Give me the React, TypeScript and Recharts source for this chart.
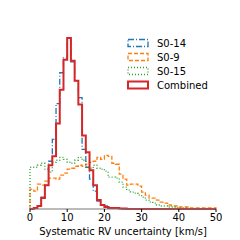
import { LineChart, Line, XAxis, YAxis } from "recharts";

// histogram bin values, 1 km/s bins from 0 to 50
const s014 = [
  0, 1, 3, 12, 24, 48, 70, 106, 137, 152, 170, 148, 129, 112, 60, 42, 30, 18, 8, 4,
  3, 2, 1, 1, 0, 0, 0, 0, 0, 0, 0, 0, 0, 0, 0, 0, 0, 0, 0, 0,
  0, 0, 0, 0, 0, 0, 0, 0, 0, 0,
];
const s09 = [
  20, 18, 25, 24, 28, 31, 31, 30, 34, 36, 40, 41, 43, 44, 43, 45, 47, 48, 52, 50,
  54, 53, 46, 45, 35, 30, 24, 25, 25, 23, 17, 14, 11, 11, 9, 7, 6, 4, 3, 3,
  2, 2, 2, 1, 1, 1, 1, 1, 1, 1,
];
const s015 = [
  42, 42, 44, 46, 40, 37, 47, 49, 52, 50, 47, 46, 49, 52, 49, 42, 41, 44, 41, 40,
  38, 32, 32, 31, 27, 22, 19, 17, 16, 14, 12, 9, 7, 6, 4, 3, 3, 2, 2, 1,
  1, 1, 0, 0, 0, 0, 0, 0, 0, 0,
];
const combined = [
  0, 1, 3, 11, 24, 44, 53, 86, 120, 150, 172, 149, 129, 105, 74, 57, 39, 24, 9, 4,
  2, 1, 1, 1, 0.5, 0.5, 0, 0, 0, 0, 0, 0, 0, 0, 0, 0, 0, 0, 0, 0,
  0, 0, 0, 0, 0, 0, 0, 0, 0, 0,
];
const xTicks = [0, 10, 20, 30, 40, 50];

const series = [
  { key: "s014", name: "S0-14", color: "#1f77b4", dash: "6 2 1 2", width: 1.3 },
  { key: "s09", name: "S0-9", color: "#ff7f0e", dash: "4 2", width: 1.3 },
  { key: "s015", name: "S0-15", color: "#2ca02c", dash: "1 2", width: 1.3 },
  { key: "comb", name: "Combined", color: "#d62728", dash: undefined, width: 2 },
];

// step outline: up from baseline at 0, flat per bin, down at 50
const rows = [
  { x: 0, s014: 0, s09: 0, s015: 0, comb: 0 },
  ...s014.map((_, i) => ({ x: i, s014: s014[i], s09: s09[i], s015: s015[i], comb: combined[i] })),
  { x: 50, s014: s014[49], s09: s09[49], s015: s015[49], comb: combined[49] },
  { x: 50, s014: 0, s09: 0, s015: 0, comb: 0 },
];

const font = "'DejaVu Sans', sans-serif";

function LegendBox() {
  return (
    <div style={{ position: "absolute", left: 127, top: 36, fontFamily: font, fontSize: 10, color: "#000" }}>
      {series.map((s) => (
        <div key={s.key} style={{ display: "flex", alignItems: "center", height: 14 }}>
          <svg width={22} height={14}>
            <rect
              x={1}
              y={3.5}
              width={20}
              height={7}
              fill="none"
              stroke={s.color}
              strokeWidth={s.width}
              strokeDasharray={s.dash}
            />
          </svg>
          <span style={{ marginLeft: 8 }}>{s.name}</span>
        </div>
      ))}
    </div>
  );
}

export default function App() {
  return (
    <div style={{ position: "absolute", left: 0, top: 0, width: 240, height: 240, background: "#fff" }}>
      <LineChart width={240} height={240} data={rows} margin={{ top: 29, right: 24, left: 30, bottom: 0 }}>
        <XAxis
          dataKey="x"
          type="number"
          domain={[0, 50]}
          ticks={xTicks}
          height={31}
          tickSize={3}
          tickMargin={2}
          stroke="#000"
          axisLine={{ stroke: "#777" }}
          tick={{ fontSize: 10, fill: "#000", fontFamily: font }}
          label={{
            value: "Systematic RV uncertainty [km/s]",
            position: "insideBottom",
            offset: 5,
            style: { fontSize: 10, fill: "#000", fontFamily: font },
          }}
        />
        <YAxis hide domain={[0, 181]} />
        {series.map((s) => (
          <Line
            key={s.key}
            dataKey={s.key}
            name={s.name}
            type="stepAfter"
            stroke={s.color}
            strokeWidth={s.width}
            strokeDasharray={s.dash}
            dot={false}
            activeDot={false}
            isAnimationActive={false}
          />
        ))}
      </LineChart>
      <LegendBox />
    </div>
  );
}
